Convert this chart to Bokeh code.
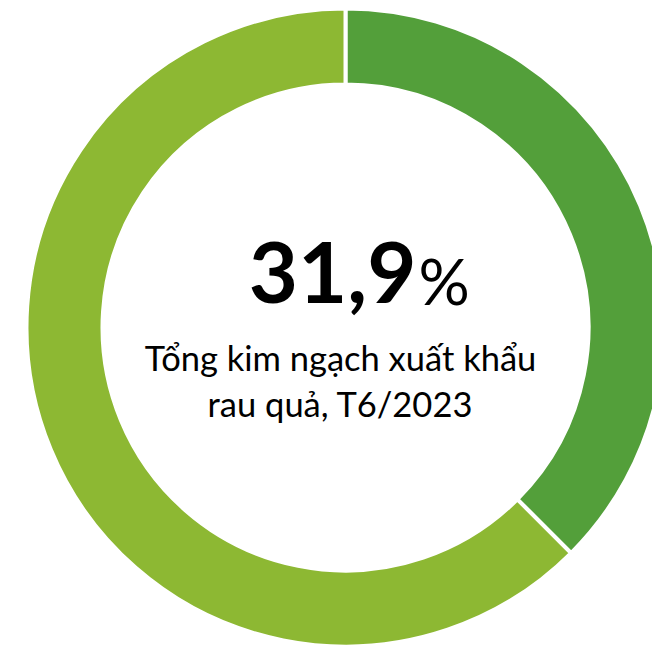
import numpy as np
from bokeh.plotting import figure
from bokeh.models import Range1d, ColumnDataSource
from bokeh.core.properties import value
from bokeh.embed import file_html
from bokeh.resources import INLINE

# Data
segments = ["Phần 1", "Phần 2"]
shares = [37.5, 62.5]
colors = ["#539F3A", "#8DB833"]
big_value = "31,9"
big_unit = "%"
subtitle_lines = ["Tổng kim ngạch xuất khẩu", "rau quả, T6/2023"]

W, H = 652, 646
p = figure(width=W, height=H, output_backend="svg", toolbar_location=None,
           x_range=Range1d(-345, -345 + W), y_range=Range1d(327 - H, 327),
           x_axis_type=None, y_axis_type=None, min_border=0)
p.outline_line_color = None
p.grid.visible = False
p.background_fill_color = "white"

frac = np.array(shares) / sum(shares)
cum = np.concatenate([[0], np.cumsum(frac)])
start = np.pi / 2 - 2 * np.pi * cum[:-1]
end = np.pi / 2 - 2 * np.pi * cum[1:]
src = ColumnDataSource(dict(start=start, end=end, color=colors, name=segments))
p.annular_wedge(x=0, y=0, inner_radius=243, outer_radius=319,
                start_angle="end", end_angle="start", color="color",
                line_color="white", line_width=4, source=src)

p.text(x=[71], y=[55], text=[big_value], text_font=value("Lato"),
       text_font_size="85px", text_font_style="bold", text_align="right",
       text_baseline="alphabetic", text_color="black")
p.text(x=[73], y=[47], text=[big_unit], text_font=value("Lato"),
       text_font_size="64px", text_align="left",
       text_baseline="alphabetic", text_color="black")
p.text(x=[-5, -5], y=[-30, -76], text=subtitle_lines, text_font=value("Lato"),
       text_font_size="34.5px", text_align="center",
       text_baseline="alphabetic", text_color="black")

open("out.html", "w").write(file_html(p, INLINE))
